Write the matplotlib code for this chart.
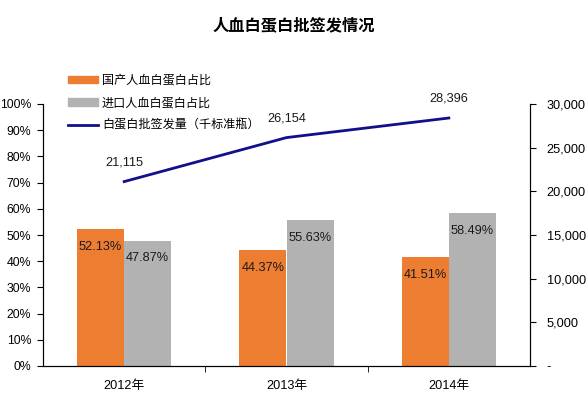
import matplotlib
matplotlib.use("Agg")
import matplotlib.pyplot as plt
import numpy as np
from matplotlib.patches import Patch
from matplotlib.lines import Line2D
from matplotlib.ticker import FuncFormatter

plt.rcParams['font.family'] = ['Liberation Sans', 'Noto Sans CJK SC', 'DejaVu Sans']

years = ['2012年', '2013年', '2014年']
domestic = [52.13, 44.37, 41.51]
imported = [47.87, 55.63, 58.49]
batches = [21115, 26154, 28396]
title = '人血白蛋白批签发情况'
legend_labels = ['国产人血白蛋白占比', '进口人血白蛋白占比', '白蛋白批签发量（千标准瓶）']

c_orange = '#ED7D31'
c_gray = '#B2B2B2'
c_line = '#10108A'
fs = 9.2

fig = plt.figure(figsize=(5.88, 3.99), dpi=100)
ax = fig.add_axes([43/588, 33/399, 487/588, 262/399])
x = np.arange(len(years))
w = 0.29
ax.bar(x - w/2, domestic, w, color=c_orange)
ax.bar(x + w/2, imported, w, color=c_gray)
for i in range(len(years)):
    ax.text(x[i] - w/2, domestic[i] - 4.5, f'{domestic[i]:.2f}%', ha='center', va='top', fontsize=fs, color='#1a1a1a')
    ax.text(x[i] + w/2, imported[i] - 4.5, f'{imported[i]:.2f}%', ha='center', va='top', fontsize=fs, color='#1a1a1a')

ax.set_xlim(-0.5, 2.5)
ax.set_ylim(0, 100)
ax.set_yticks(np.arange(0, 101, 10))
ax.yaxis.set_major_formatter(FuncFormatter(lambda v, p: f'{int(v)}%'))
ax.set_xticks(x)
ax.set_xticklabels(years, fontsize=fs)
ax.set_xticks([0.5, 1.5], minor=True)
ax.tick_params(axis='x', which='major', length=0, pad=10)
ax.tick_params(axis='x', which='minor', length=4, direction='out')
ax.tick_params(axis='y', labelsize=8.8, length=4, direction='out', pad=4.5)
ax.spines['top'].set_visible(False)

ax2 = ax.twinx()
ax2.plot(x, batches, color=c_line, lw=2)
for i in range(len(years)):
    ax2.text(x[i], batches[i] + 1500, f'{batches[i]:,}', ha='center', va='bottom', fontsize=fs, color='#1a1a1a')
ax2.set_ylim(0, 30000)
ax2.set_yticks(np.arange(0, 30001, 5000))
ax2.yaxis.set_major_formatter(FuncFormatter(lambda v, p: '-' if v == 0 else f'{int(v):,}'))
ax2.tick_params(axis='y', labelsize=fs, length=4, direction='out', pad=8)
ax2.spines['top'].set_visible(False)

handles = [Patch(color=c_orange), Patch(color=c_gray), Line2D([0], [0], color=c_line, lw=2)]
fig.legend(handles, legend_labels, loc='upper left', bbox_to_anchor=(68/588, 1 - 75/399),
           frameon=False, fontsize=8.7, handlelength=2.5, handleheight=0.55,
           labelspacing=0.85, handletextpad=0.3, borderaxespad=0, borderpad=0)

fig.text(0.5, 1 - 25/399, title, ha='center', va='center', fontsize=11.7, fontweight='bold')
fig.savefig('out.png', dpi=100)
